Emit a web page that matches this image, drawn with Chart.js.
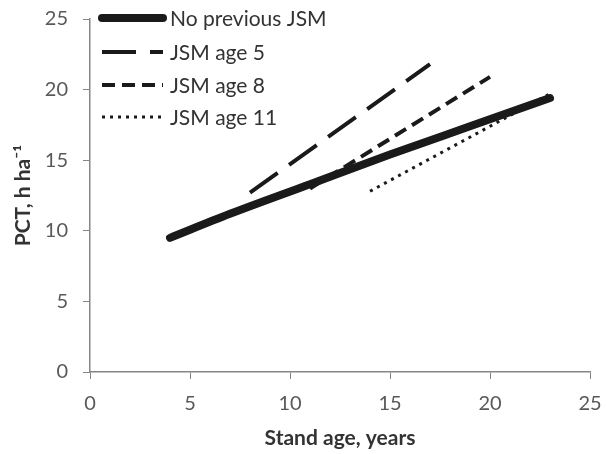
<!DOCTYPE html>
<html>
<head>
<meta charset="utf-8">
<script src="https://cdn.jsdelivr.net/npm/chart.js@4"></script>
<style>
  html, body { margin: 0; padding: 0; background: #fff; }
  #wrap { width: 606px; height: 454px; }
</style>
</head>
<body>
<div id="wrap"><canvas id="pctChart" width="606" height="454"></canvas></div>
<script>
// ── Data ─────────────────────────────────────────────────
const seriesNames = ['No previous JSM', 'JSM age 5', 'JSM age 8', 'JSM age 11'];

const noJsmAge = [4, 7, 11, 15, 19, 23];
const noJsmPct = [9.5, 11.2, 13.3, 15.4, 17.4, 19.4];

const jsm5Age = [8, 17];
const jsm5Pct = [12.7, 21.8];

const jsm8Age = [11, 20];
const jsm8Pct = [13.0, 20.9];

const jsm11Age = [14, 23];
const jsm11Pct = [12.8, 19.7];

const xTicks = [0, 5, 10, 15, 20, 25];
const yTicks = [0, 5, 10, 15, 20, 25];

const toPoints = (xs, ys) => xs.map((x, i) => ({ x: x, y: ys[i] }));

const lineColor = '#1a1a1a';
const axisColor = '#868686';

// simple legend drawn inside the plot, top-left
const legendInside = {
  id: 'legendInside',
  afterDraw(chart) {
    const ctx = chart.ctx;
    const x0 = 102, x1 = 163, textX = 170;
    const rows = [18, 52, 85, 117];
    ctx.save();
    chart.data.datasets.forEach((ds, i) => {
      ctx.strokeStyle = ds.borderColor;
      ctx.lineWidth = ds.borderWidth;
      ctx.lineCap = ds.borderCapStyle;
      ctx.setLineDash(ds.borderDash || []);
      ctx.beginPath();
      ctx.moveTo(x0, rows[i]);
      ctx.lineTo(x1, rows[i]);
      ctx.stroke();
      ctx.setLineDash([]);
      ctx.fillStyle = '#333';
      ctx.font = '21px Lato';
      ctx.textBaseline = 'middle';
      ctx.fillText(ds.label, textX, rows[i] + 1);
    });
    ctx.restore();
  }
};

const ctx = document.getElementById('pctChart').getContext('2d');
new Chart(ctx, {
  type: 'line',
  data: {
    datasets: [
      {
        label: seriesNames[0],
        data: toPoints(noJsmAge, noJsmPct),
        borderColor: lineColor,
        borderWidth: 8,
        borderCapStyle: 'round',
        borderJoinStyle: 'round',
        cubicInterpolationMode: 'monotone'
      },
      {
        label: seriesNames[1],
        data: toPoints(jsm5Age, jsm5Pct),
        borderColor: lineColor,
        borderWidth: 4,
        borderDash: [34, 14],
        borderCapStyle: 'butt'
      },
      {
        label: seriesNames[2],
        data: toPoints(jsm8Age, jsm8Pct),
        borderColor: lineColor,
        borderWidth: 4,
        borderDash: [13, 7],
        borderCapStyle: 'butt'
      },
      {
        label: seriesNames[3],
        data: toPoints(jsm11Age, jsm11Pct),
        borderColor: lineColor,
        borderWidth: 3,
        borderDash: [3, 5],
        borderCapStyle: 'butt'
      }
    ]
  },
  options: {
    responsive: false,
    animation: false,
    elements: { point: { radius: 0 }, line: { tension: 0, fill: false } },
    layout: { padding: 0 },
    plugins: { legend: { display: false }, tooltip: { enabled: false } },
    scales: {
      x: {
        type: 'linear',
        min: 0,
        max: 25,
        afterBuildTicks: axis => { axis.ticks = xTicks.map(v => ({ value: v })); },
        // fix the band height and right overhang so the plot sits where the original does
        afterFit: axis => { axis.paddingRight = 16; axis.height = 82; },
        grid: { drawOnChartArea: false, color: axisColor, tickLength: 7 },
        border: { color: axisColor, width: 1.5 },
        ticks: { color: '#595959', font: { family: 'Lato', size: 20 }, padding: 13 },
        title: {
          display: true,
          text: 'Stand age, years',
          color: '#333',
          font: { family: 'Lato', size: 21, weight: 'bold' },
          padding: { top: 8, bottom: 3 }
        }
      },
      y: {
        type: 'linear',
        min: 0,
        max: 25,
        afterBuildTicks: axis => { axis.ticks = yTicks.map(v => ({ value: v })); },
        afterFit: axis => { axis.paddingTop = 19; axis.width = 90; },
        grid: { drawOnChartArea: false, color: axisColor, tickLength: 7 },
        border: { color: axisColor, width: 1.5 },
        ticks: { color: '#595959', font: { family: 'Lato', size: 20 }, padding: 15 },
        title: {
          display: true,
          text: 'PCT, h ha\u207B\u00B9',
          color: '#333',
          font: { family: 'Lato', size: 21, weight: 'bold' },
          padding: { top: 11, bottom: 4 }
        }
      }
    }
  },
  plugins: [legendInside]
});
</script>
</body>
</html>
